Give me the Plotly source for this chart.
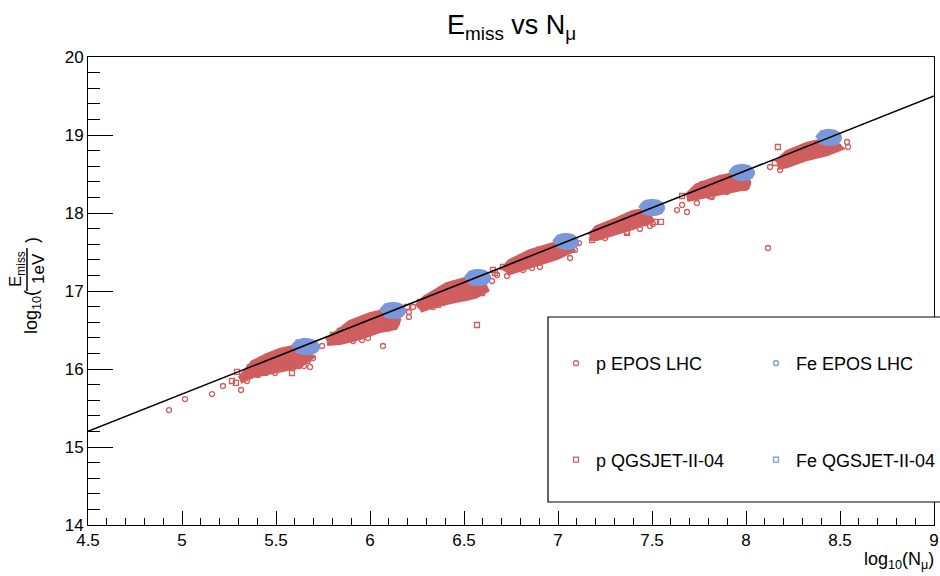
import plotly.graph_objects as go

# ---------------- data ----------------
fit_x = [4.5, 9.0]
fit_y = [15.2, 19.5]

# dense cores of the proton clouds (outline of the crowded region)
p_core_x = [
    [5.309, 5.378, 5.452, 5.521, 5.612, 5.654, 5.686, 5.628, 5.559, 5.468, 5.378, 5.309],
    [5.771, 5.894, 6.000, 6.069, 6.117, 6.149, 6.133, 6.053, 5.947, 5.840, 5.771],
    [6.250, 6.293, 6.410, 6.505, 6.596, 6.617, 6.559, 6.452, 6.356, 6.266],
    [6.707, 6.745, 6.851, 6.941, 6.995, 7.064, 7.074, 6.995, 6.904, 6.814, 6.729],
    [7.170, 7.207, 7.314, 7.399, 7.463, 7.495, 7.399, 7.314, 7.207, 7.170],
    [7.686, 7.739, 7.846, 7.931, 7.984, 8.011, 8.005, 7.931, 7.824, 7.739, 7.686],
    [8.165, 8.218, 8.324, 8.410, 8.463, 8.500, 8.431, 8.324, 8.218, 8.170],
]
p_core_y = [
    [15.872, 16.077, 16.167, 16.231, 16.282, 16.256, 16.154, 16.051, 16.013, 15.962, 15.923, 15.846],
    [16.359, 16.590, 16.692, 16.731, 16.731, 16.628, 16.538, 16.500, 16.410, 16.346, 16.333],
    [16.795, 16.910, 17.077, 17.141, 17.128, 17.013, 16.936, 16.885, 16.833, 16.756],
    [17.269, 17.372, 17.500, 17.564, 17.603, 17.564, 17.526, 17.436, 17.372, 17.308, 17.231],
    [17.705, 17.808, 17.910, 18.000, 18.026, 17.910, 17.821, 17.756, 17.679, 17.679],
    [18.218, 18.346, 18.436, 18.487, 18.474, 18.397, 18.333, 18.295, 18.256, 18.205, 18.179],
    [18.641, 18.769, 18.872, 18.923, 18.910, 18.833, 18.769, 18.705, 18.615, 18.590],
]

# dense cores of the iron clouds
fe_core_x = [
    [5.590, 5.612, 5.654, 5.702, 5.723, 5.702, 5.649, 5.606],
    [6.059, 6.080, 6.122, 6.165, 6.181, 6.160, 6.117, 6.074],
    [6.511, 6.532, 6.574, 6.617, 6.633, 6.612, 6.569, 6.527],
    [6.979, 7.000, 7.043, 7.085, 7.101, 7.080, 7.037, 6.995],
    [7.436, 7.457, 7.500, 7.543, 7.559, 7.537, 7.495, 7.452],
    [7.915, 7.936, 7.979, 8.021, 8.037, 8.016, 7.973, 7.931],
    [8.378, 8.399, 8.441, 8.484, 8.500, 8.479, 8.436, 8.394],
]
fe_core_y = [
    [16.282, 16.346, 16.372, 16.346, 16.282, 16.218, 16.205, 16.231],
    [16.744, 16.808, 16.833, 16.808, 16.744, 16.679, 16.667, 16.692],
    [17.167, 17.231, 17.256, 17.231, 17.167, 17.103, 17.090, 17.115],
    [17.628, 17.692, 17.718, 17.692, 17.628, 17.564, 17.551, 17.577],
    [18.064, 18.128, 18.154, 18.128, 18.064, 18.000, 17.987, 18.013],
    [18.513, 18.577, 18.603, 18.577, 18.513, 18.449, 18.436, 18.462],
    [18.962, 19.026, 19.051, 19.026, 18.962, 18.897, 18.885, 18.910],
]

# individual proton EPOS LHC showers (open circles)
p_epos_x = [4.931, 5.016, 5.160, 5.218, 5.314, 5.346, 5.404, 5.495, 5.590, 5.649, 5.681, 5.670, 5.697,
            5.745, 5.33, 5.42, 5.50, 5.58, 5.54,
            5.910, 5.957, 5.989, 6.069, 6.101, 6.144, 6.207, 6.207, 6.229, 5.80, 5.88, 5.98, 6.06, 6.10,
            6.335, 6.388, 6.505, 6.553, 6.649, 6.30, 6.40, 6.50, 6.60,
            6.676, 6.729, 6.814, 6.862, 6.904, 7.064, 7.090, 7.112, 6.76, 6.86, 6.96, 7.03,
            7.250, 7.367, 7.436, 7.489, 7.505, 7.633, 7.660, 7.686, 7.739, 7.22, 7.32, 7.42, 7.48,
            7.819, 7.899, 7.995, 8.011, 8.117, 7.72, 7.82, 7.92, 7.97,
            8.128, 8.181, 8.303, 8.447, 8.484, 8.537, 8.543, 8.20, 8.30, 8.40, 8.45]
p_epos_y = [15.474, 15.615, 15.679, 15.782, 15.731, 15.846, 15.923, 15.949, 16.013, 16.038, 16.026, 16.103, 16.141,
            16.295, 15.89, 16.10, 16.20, 16.25, 16.02,
            16.359, 16.372, 16.397, 16.295, 16.538, 16.590, 16.667, 16.731, 16.795, 16.39, 16.55, 16.66, 16.70, 16.52,
            16.795, 16.846, 16.910, 16.974, 17.128, 16.86, 17.00, 17.10, 17.04,
            17.205, 17.192, 17.269, 17.295, 17.308, 17.423, 17.526, 17.615, 17.33, 17.47, 17.57, 17.50,
            17.679, 17.756, 17.795, 17.833, 17.859, 18.038, 18.103, 18.013, 18.128, 17.78, 17.88, 17.98, 17.93,
            18.205, 18.269, 18.321, 18.385, 17.551, 18.28, 18.41, 18.47, 18.40,
            18.590, 18.551, 18.692, 18.808, 18.846, 18.910, 18.846, 18.72, 18.84, 18.90, 18.87]

# individual proton QGSJET-II-04 showers (open squares)
p_qgs_x = [5.293, 5.266, 5.287, 5.585, 5.617, 5.36, 5.47, 5.56, 5.44,
           5.803, 5.840, 6.197, 5.92, 6.02, 6.08, 5.96,
           6.266, 6.362, 6.516, 6.596, 6.569, 6.665, 6.35, 6.45, 6.55,
           6.654, 6.707, 7.096, 6.80, 6.90, 6.98, 6.87,
           7.181, 7.367, 7.463, 7.516, 7.548, 7.27, 7.38, 7.45,
           7.660, 7.702, 7.809, 8.005, 7.77, 7.87, 7.94,
           8.170, 8.154, 8.197, 8.271, 8.489, 8.26, 8.36, 8.42]
p_qgs_y = [15.962, 15.846, 15.821, 15.949, 16.038, 16.02, 16.14, 16.06, 15.95,
           16.436, 16.487, 16.795, 16.60, 16.68, 16.55, 16.44,
           16.859, 16.821, 16.923, 16.974, 16.564, 17.231, 16.94, 17.05, 17.00,
           17.269, 17.308, 17.615, 17.42, 17.53, 17.47, 17.38,
           17.654, 17.744, 17.872, 17.885, 17.885, 17.84, 17.95, 17.90,
           18.218, 18.205, 18.218, 18.385, 18.37, 18.45, 18.36,
           18.846, 18.641, 18.654, 18.705, 18.846, 18.80, 18.88, 18.82]

# individual iron showers
fe_epos_x = [5.60, 5.65, 5.70, 5.66, 6.07, 6.12, 6.17, 6.12, 6.52, 6.57, 6.62, 6.57,
             6.99, 7.04, 7.09, 7.04, 7.45, 7.50, 7.55, 7.50, 7.93, 7.98, 8.03, 7.98,
             8.39, 8.44, 8.49, 8.44]
fe_epos_y = [16.30, 16.36, 16.30, 16.23, 16.76, 16.82, 16.75, 16.69, 17.18, 17.24, 17.17, 17.11,
             17.64, 17.70, 17.63, 17.57, 18.08, 18.14, 18.07, 18.00, 18.53, 18.59, 18.52, 18.45,
             18.98, 19.04, 18.97, 18.90]
fe_qgs_x = [5.62, 5.69, 6.09, 6.16, 6.54, 6.61, 7.01, 7.08, 7.47, 7.54, 7.543, 7.95, 8.02, 8.41, 8.48]
fe_qgs_y = [16.34, 16.25, 16.80, 16.71, 17.22, 17.13, 17.68, 17.59, 18.12, 18.03, 18.064, 18.57, 18.48, 19.02, 18.93]

# ---------------- style ----------------
RED = "rgb(208,94,94)"
BLUE = "rgb(121,152,217)"
FONT = "Liberation Sans, Arial, sans-serif"

fig = go.Figure()

for cx, cy in zip(p_core_x, p_core_y):
    fig.add_trace(go.Scatter(x=cx, y=cy, mode="lines", fill="toself", fillcolor=RED,
                             line=dict(color=RED, width=6), showlegend=False, hoverinfo="skip"))

fig.add_trace(go.Scatter(x=p_epos_x, y=p_epos_y, mode="markers", name="p EPOS LHC",
                         marker=dict(symbol="circle-open", size=5, color=RED, line=dict(width=1.3)),
                         legend="legend", legendgroup="a"))
fig.add_trace(go.Scatter(x=p_qgs_x, y=p_qgs_y, mode="markers", name="p QGSJET-II-04",
                         marker=dict(symbol="square-open", size=5, color=RED, line=dict(width=1.3)),
                         legend="legend", legendgroup="b"))

for cx, cy in zip(fe_core_x, fe_core_y):
    fig.add_trace(go.Scatter(x=cx, y=cy, mode="lines", fill="toself", fillcolor=BLUE,
                             line=dict(color=BLUE, width=4, shape="spline"), showlegend=False,
                             hoverinfo="skip"))

fig.add_trace(go.Scatter(x=fe_epos_x, y=fe_epos_y, mode="markers", name="Fe EPOS LHC",
                         marker=dict(symbol="circle-open", size=5, color=BLUE, line=dict(width=1.3)),
                         legend="legend2", legendgroup="c"))
fig.add_trace(go.Scatter(x=fe_qgs_x, y=fe_qgs_y, mode="markers", name="Fe QGSJET-II-04",
                         marker=dict(symbol="square-open", size=5, color=BLUE, line=dict(width=1.3)),
                         legend="legend2", legendgroup="d"))

fig.add_trace(go.Scatter(x=fit_x, y=fit_y, mode="lines", line=dict(color="black", width=1.5),
                         showlegend=False, hoverinfo="skip"))

# ---------------- layout ----------------
L, R, T, B = 88, 6, 57, 51
W, H = 940, 576
PW, PH = W - L - R, H - T - B


def px(xp):
    return (xp - L) / PW


def py(yp):
    return (H - B - yp) / PH


axis_common = dict(showline=True, linecolor="black", linewidth=1, mirror=True, showgrid=False,
                   zeroline=False, ticks="inside", tickcolor="black", automargin=False,
                   tickfont=dict(family=FONT, size=17, color="black"))

fig.update_layout(
    width=W, height=H,
    margin=dict(l=L, r=R, t=T, b=B, autoexpand=False),
    paper_bgcolor="white", plot_bgcolor="white",
    font=dict(family=FONT, color="black"),
    xaxis=dict(range=[4.5, 9.0], tick0=4.5, dtick=0.5, ticklen=14, tickwidth=1,
               minor=dict(dtick=0.1, ticklen=7, ticks="inside", tickcolor="black"), **axis_common),
    yaxis=dict(range=[14, 20], tick0=14, dtick=1, ticklen=25, tickwidth=1,
               minor=dict(dtick=0.2, ticklen=12, ticks="inside", tickcolor="black"), **axis_common),
    legend=dict(x=px(556), y=py(345), xanchor="left", yanchor="top", bgcolor="rgba(0,0,0,0)",
                font=dict(family=FONT, size=18), tracegroupgap=70, traceorder="grouped"),
    legend2=dict(x=px(756), y=py(345), xanchor="left", yanchor="top", bgcolor="rgba(0,0,0,0)",
                 font=dict(family=FONT, size=18), tracegroupgap=70, traceorder="grouped"),
    showlegend=True,
)

# legend frame (extends past the right edge like the reference)
fig.add_shape(type="rect", xref="paper", yref="paper", x0=px(548), x1=px(950), y0=py(502), y1=py(317),
              line=dict(color="black", width=1.2), fillcolor="white", layer="above")

ann = []
ann.append(dict(text="E<sub>miss</sub> vs N<sub>μ</sub>", x=px(511), y=py(27), xanchor="center",
                yanchor="middle", font=dict(size=27)))
ann.append(dict(text="log<sub>10</sub>(N<sub>μ</sub>)", x=px(936), y=py(560), xanchor="right",
                yanchor="middle", font=dict(size=18)))
# y title: log10( E_miss / 1eV )
ann.append(dict(text="log<sub>10</sub>(", x=px(32), y=py(312), xanchor="center", yanchor="middle",
                textangle=-90, font=dict(size=18)))
ann.append(dict(text="E<sub>miss</sub>", x=px(17), y=py(269), xanchor="center", yanchor="middle",
                textangle=-90, font=dict(size=17)))
ann.append(dict(text="1eV", x=px(38), y=py(269), xanchor="center", yanchor="middle",
                textangle=-90, font=dict(size=17)))
ann.append(dict(text=")", x=px(32), y=py(240), xanchor="center", yanchor="middle",
                textangle=-90, font=dict(size=18)))
for a in ann:
    a.update(xref="paper", yref="paper", showarrow=False)
    a["font"].update(family=FONT, color="black")
fig.update_layout(annotations=ann)
fig.add_shape(type="line", xref="paper", yref="paper", x0=px(27), x1=px(27), y0=py(248), y1=py(291),
              line=dict(color="black", width=1.5))

fig.write_html("out.html")
